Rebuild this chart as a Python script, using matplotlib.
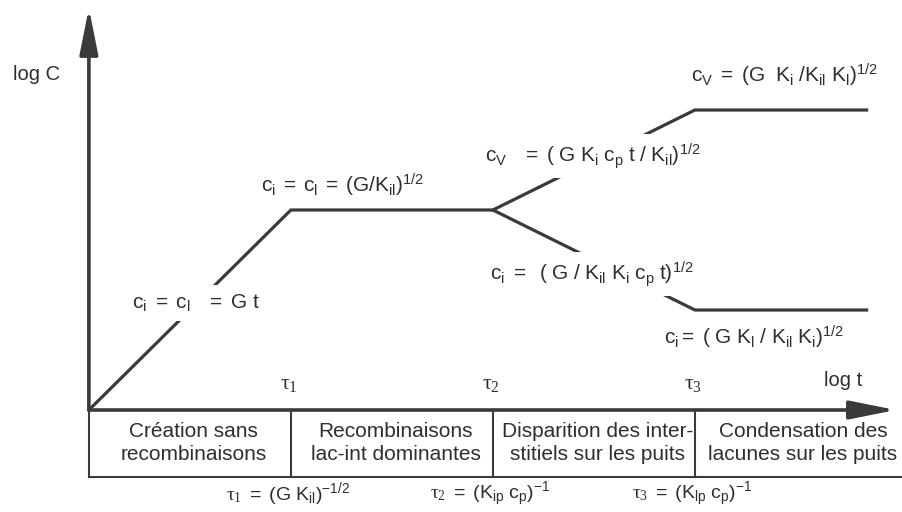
import numpy as np
import matplotlib
matplotlib.use("Agg")
import matplotlib.pyplot as plt

#################################################
# DATA (schematic, log units)
#################################################

# characteristic times on the log t axis
tau = [2.0, 4.0, 6.0]
t_end = 7.7

# interstitials : creation, recombination plateau, sink loss, final plateau
ci_logt = [0.0, tau[0], tau[1], tau[2], t_end]
ci_logc = [0.0, 2.0, 2.0, 1.0, 1.0]

# vacancies after tau2
cv_logt = [tau[1], tau[2], t_end]
cv_logc = [2.0, 3.0, 3.0]

regimes = [
    "Création sans\nrecombinaisons",
    "Recombinaisons\nlac-int dominantes",
    "Disparition des inter-\nstitiels sur les puits",
    "Condensation des\nlacunes sur les puits",
]

tau_labels = [r"$\tau_{\mathsf{1}}$", r"$\tau_{\mathsf{2}}$", r"$\tau_{\mathsf{3}}$"]

tau_formulas = [
    r"$\tau_{\mathsf{1}}\mathrm{\ =\ (G\ K_{il})^{-1/2}}$",
    r"$\tau_{\mathsf{2}}\mathrm{\ =\ (K_{ip}\ c_{p})^{-1}}$",
    r"$\tau_{\mathsf{3}}\mathrm{\ =\ (K_{lp}\ c_{p})^{-1}}$",
]

curve_labels = [
    r"$\mathrm{c_{i}\ =\ c_{l}\ \ \ =\ G\ t}$",
    r"$\mathrm{c_{i}\;=\;c_{l}\;=\;(G/K_{il})^{1/2}}$",
    r"$\mathrm{c_{V}\ \ \ =\ (\ G\ K_{i}\ c_{p}\ t\ /\ K_{il})^{1/2}}$",
    r"$\mathrm{c_{V}\ =\ (G\ \ K_{i}\ /K_{il}\ K_{l})^{1/2}}$",
    r"$\mathrm{c_{i}\ =\ \ (\ G\ /\ K_{il}\ K_{i}\ c_{p}\ t)^{1/2}}$",
    r"$\mathrm{c_{i}=\ (\ G\ K_{l}\ /\ K_{il}\ K_{i})^{1/2}}$",
]

LINE = "#3a3a3a"
TEXT = "#2e2e2e"


def setup_fonts():

    plt.rcParams["font.family"] = ["Liberation Sans", "DejaVu Sans"]
    plt.rcParams["mathtext.fontset"] = "custom"
    plt.rcParams["mathtext.rm"] = "Liberation Sans"
    plt.rcParams["mathtext.it"] = "Liberation Serif"
    plt.rcParams["mathtext.sf"] = "Liberation Serif"
    plt.rcParams["mathtext.bf"] = "Liberation Sans:bold"


def main():

    setup_fonts()

    fig = plt.figure(figsize=(9.03, 5.12), dpi=100)
    ax = fig.add_axes([0, 0, 1, 1])
    ax.set_xlim(-0.88, 8.06)
    ax.set_ylim(-1.02, 4.10)
    ax.axis("off")

    #################################################
    # AXES ARROWS
    #################################################

    arrow = dict(
        arrowstyle="-|>,head_length=1.4,head_width=0.28",
        color=LINE,
        lw=2.6,
        mutation_scale=20,
        shrinkA=0,
        shrinkB=0,
    )

    ax.annotate("", xy=(0, 4.02), xytext=(0, 0), arrowprops=arrow)
    ax.annotate("", xy=(7.99, 0), xytext=(0, 0), arrowprops=arrow)

    ax.text(-0.52, 3.35, "log C", fontsize=14.5, color=TEXT,
            ha="center", va="center")
    ax.text(7.47, 0.30, "log t", fontsize=14.5, color=TEXT,
            ha="center", va="center")

    for x, lab in zip(tau, tau_labels):
        ax.text(x - 0.02, 0.27, lab, fontsize=16, color=TEXT,
                ha="center", va="center")

    #################################################
    # CURVES
    #################################################

    ax.plot(ci_logt, ci_logc, color=LINE, lw=2.3,
            solid_joinstyle="miter", zorder=2)
    ax.plot(cv_logt, cv_logc, color=LINE, lw=2.3,
            solid_joinstyle="miter", zorder=2)

    gap = dict(facecolor="white", edgecolor="none", pad=5)

    label_pos = [
        (1.06, 1.07, True),
        (2.51, 2.25, False),
        (4.99, 2.54, True),
        (6.89, 3.35, False),
        (4.98, 1.36, True),
        (6.59, 0.73, False),
    ]

    for (x, y, cut), lab in zip(label_pos, curve_labels):
        ax.text(x, y, lab, fontsize=15, color=TEXT, ha="center",
                va="center", zorder=3, bbox=gap if cut else None)

    #################################################
    # REGIME TABLE
    #################################################

    row_bottom = -0.67
    edges = [0.0] + tau + [8.06]

    ax.plot([0, 8.06], [row_bottom, row_bottom], color=LINE, lw=1.5)
    for x in edges[:-1]:
        ax.plot([x, x], [0, row_bottom], color=LINE, lw=1.5)

    for i, txt in enumerate(regimes):
        xc = 0.5 * (edges[i] + edges[i + 1])
        ax.text(xc + 0.04, -0.33, txt, fontsize=15, color=TEXT,
                ha="center", va="center", linespacing=1.32)

    for x, lab in zip(tau, tau_formulas):
        ax.text(x - 0.03, -0.84, lab, fontsize=14, color=TEXT,
                ha="center", va="center")

    fig.savefig("out.png", dpi=100, facecolor="white")


if __name__ == "__main__":
    main()
